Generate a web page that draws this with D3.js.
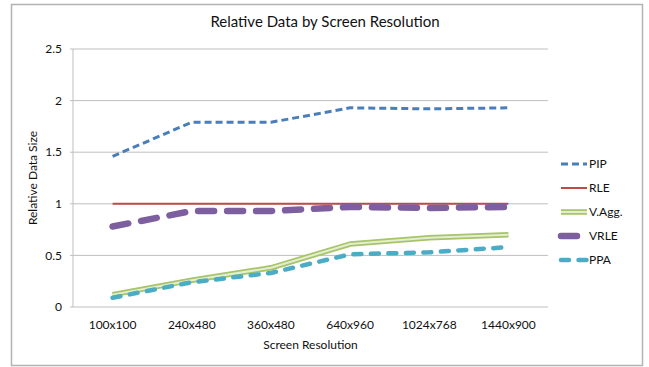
<!DOCTYPE html>
<html>
<head>
<meta charset="utf-8">
<script src="https://cdn.jsdelivr.net/npm/d3@7/dist/d3.min.js"></script>
<style>
  body { margin: 0; background: #fff; }
  text { font-family: "Lato", "Open Sans", sans-serif; fill: #111; }
</style>
</head>
<body>
<div id="chart"></div>
<script>
// data
const resolutions = ["100x100", "240x480", "360x480", "640x960", "1024x768", "1440x900"];
const pip  = [1.46, 1.79, 1.79, 1.93, 1.92, 1.93];
const rle  = [1, 1, 1, 1, 1, 1];
const vagg = [0.12, 0.26, 0.38, 0.61, 0.67, 0.70];
const vrle = [0.78, 0.93, 0.93, 0.97, 0.96, 0.97];
const ppa  = [0.09, 0.24, 0.33, 0.51, 0.53, 0.58];
const yTicks = [0, 0.5, 1, 1.5, 2, 2.5];

const W = 649, H = 367;
const plot = { left: 73, right: 548, top: 49, bottom: 307 };

const svg = d3.select("#chart").append("svg")
    .attr("width", W)
    .attr("height", H);

// outer frame
svg.append("rect")
    .attr("x", 11.5).attr("y", 4.5)
    .attr("width", 631).attr("height", 361)
    .attr("fill", "#fff")
    .attr("stroke", "#b3b3b3")
    .attr("stroke-width", 1.5);

const x = d3.scaleBand().domain(resolutions).range([plot.left, plot.right]);
const y = d3.scaleLinear().domain([0, 2.5]).range([plot.bottom, plot.top]);

// gridlines
svg.append("g")
    .selectAll("line")
    .data(yTicks)
    .join("line")
    .attr("x1", plot.left - 3)
    .attr("x2", plot.right)
    .attr("y1", d => y(d))
    .attr("y2", d => y(d))
    .attr("stroke", "#bfbfbf")
    .attr("stroke-width", 1);

// y axis line
svg.append("line")
    .attr("x1", plot.left).attr("x2", plot.left)
    .attr("y1", plot.top).attr("y2", plot.bottom)
    .attr("stroke", "#bfbfbf");

// y tick labels
svg.append("g")
    .selectAll("text")
    .data(yTicks)
    .join("text")
    .attr("x", 62)
    .attr("y", d => y(d))
    .attr("dy", "0.35em")
    .attr("text-anchor", "end")
    .style("font-size", "12px")
    .text(d => d);

// x tick labels
svg.append("g")
    .selectAll("text")
    .data(resolutions)
    .join("text")
    .attr("x", d => x(d) + x.bandwidth() / 2)
    .attr("y", 325)
    .attr("dy", "0.35em")
    .attr("text-anchor", "middle")
    .style("font-size", "12px")
    .text(d => d);

// titles
svg.append("text")
    .attr("x", 325).attr("y", 22)
    .attr("dy", "0.35em")
    .attr("text-anchor", "middle")
    .style("font-size", "15px")
    .text("Relative Data by Screen Resolution");

svg.append("text")
    .attr("x", (plot.left + plot.right) / 2).attr("y", 345)
    .attr("dy", "0.35em")
    .attr("text-anchor", "middle")
    .style("font-size", "12px")
    .text("Screen Resolution");

svg.append("text")
    .attr("transform", `translate(33,${(plot.top + plot.bottom) / 2}) rotate(-90)`)
    .attr("dy", "0.35em")
    .attr("text-anchor", "middle")
    .style("font-size", "12px")
    .text("Relative Data Size");

const series = [
    { name: "PIP", values: pip, strokes: [{ color: "#4a7ebb", width: 3, dash: "7,4", cap: "butt" }] },
    { name: "RLE", values: rle, strokes: [{ color: "#be4b48", width: 2, dash: null, cap: "butt" }] },
    { name: "V.Agg.", values: vagg, strokes: [
        { color: "#a6c468", width: 5.5, dash: null, cap: "butt" },
        { color: "#e4edcf", width: 2, dash: null, cap: "butt" }
    ] },
    { name: "VRLE", values: vrle, strokes: [{ color: "#7d5fa0", width: 6.5, dash: "16,13", cap: "round" }] },
    { name: "PPA", values: ppa, strokes: [{ color: "#4bacc6", width: 4.5, dash: "8,9.5", cap: "round" }] }
];

const line = d3.line()
    .x((d, i) => x(resolutions[i]) + x.bandwidth() / 2)
    .y(d => y(d));

series.forEach(s => {
    s.strokes.forEach(st => {
        svg.append("path")
            .datum(s.values)
            .attr("d", line)
            .attr("fill", "none")
            .attr("stroke", st.color)
            .attr("stroke-width", st.width)
            .attr("stroke-dasharray", st.dash)
            .attr("stroke-linecap", st.cap)
            .attr("stroke-linejoin", "round");
    });
});

// legend
const legend = svg.append("g");
series.forEach((s, i) => {
    const ly = 164 + i * 24;
    s.strokes.forEach(st => {
        legend.append("line")
            .attr("x1", 561).attr("x2", 587)
            .attr("y1", ly).attr("y2", ly)
            .attr("stroke", st.color)
            .attr("stroke-width", st.width)
            .attr("stroke-dasharray", st.dash)
            .attr("stroke-linecap", st.cap);
    });
    legend.append("text")
        .attr("x", 589).attr("y", ly)
        .attr("dy", "0.35em")
        .style("font-size", "12px")
        .text(s.name);
});
</script>
</body>
</html>
